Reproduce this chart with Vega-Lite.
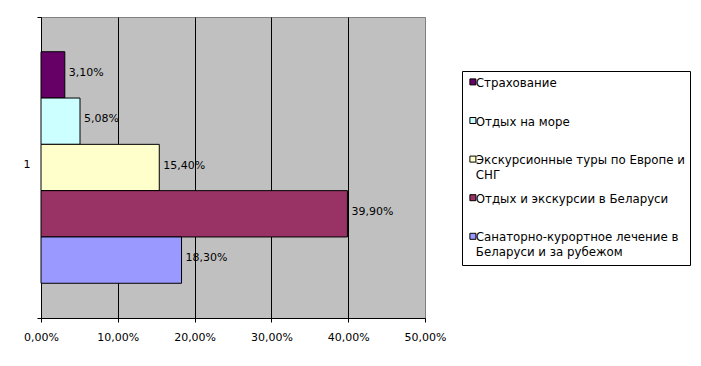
{
  "$schema": "https://vega.github.io/schema/vega-lite/v6.json",
  "width": 384,
  "height": 301,
  "autosize": "none",
  "padding": {"left": 41, "top": 17, "right": 276, "bottom": 48},
  "background": "white",
  "config": {
    "font": "DejaVu Sans",
    "locale": {"number": {"decimal": ",", "thousands": " ", "grouping": [3], "currency": ["", " руб."]}},
    "view": {"fill": "#C0C0C0", "stroke": "#808080", "strokeWidth": 1}
  },
  "data": {
    "values": [
      {"cat": "1", "series": "Страхование", "value": 0.031},
      {"cat": "1", "series": "Отдых на море", "value": 0.0508},
      {"cat": "1", "series": "Экскурсионные туры по Европе и СНГ", "value": 0.154},
      {"cat": "1", "series": "Отдых и экскурсии в Беларуси", "value": 0.399},
      {"cat": "1", "series": "Санаторно-курортное лечение в Беларуси и за рубежом", "value": 0.183}
    ]
  },
  "encoding": {
    "y": {
      "field": "cat", "type": "nominal",
      "scale": {"paddingInner": 0, "paddingOuter": 0},
      "axis": {
        "title": null, "domainColor": "black", "tickColor": "black", "tickBand": "extent",
        "tickSize": 4, "labelPadding": 7, "labelFontSize": 11, "labelColor": "black", "labelAngle": 0,
        "labelOffset": -3
      }
    },
    "yOffset": {
      "field": "series", "type": "nominal",
      "scale": {
        "domain": ["Страхование", "Отдых на море", "Экскурсионные туры по Европе и СНГ", "Отдых и экскурсии в Беларуси", "Санаторно-курортное лечение в Беларуси и за рубежом"],
        "paddingInner": 0, "paddingOuter": 0.75
      }
    },
    "x": {
      "field": "value", "type": "quantitative",
      "scale": {"domain": [0, 0.5], "nice": false},
      "axis": {
        "title": null, "values": [0, 0.1, 0.2, 0.3, 0.4, 0.5], "format": ".2%",
        "domainColor": "black", "tickColor": "black", "tickSize": 4,
        "grid": true, "gridColor": {"condition": {"test": "datum.value >= 0.5", "value": "#808080"}, "value": "black"},
        "gridOpacity": 1,
        "labelPadding": 9, "labelFontSize": 11, "labelColor": "black", "labelFlush": false
      }
    }
  },
  "layer": [
    {
      "mark": {"type": "bar", "stroke": "black", "strokeWidth": 1},
      "encoding": {
        "color": {
          "field": "series", "type": "nominal",
          "scale": {
            "domain": ["Страхование", "Отдых на море", "Экскурсионные туры по Европе и СНГ", "Отдых и экскурсии в Беларуси", "Санаторно-курортное лечение в Беларуси и за рубежом"],
            "range": ["#660066", "#CCFFFF", "#FFFFCC", "#993366", "#9999FF"]
          },
          "legend": {
            "orient": "none", "legendX": 421, "legendY": 54,
            "title": null, "strokeColor": "black", "fillColor": "white", "padding": 5,
            "symbolType": "square", "symbolSize": 36, "symbolStrokeColor": "black", "symbolStrokeWidth": 1,
            "symbolOpacity": 1,
            "labelFontSize": 11.8, "labelColor": "black", "labelLimit": 400, "labelOffset": -3,
            "labelBaseline": "top", "gridAlign": "all", "rowPadding": 9.6,
            "labelExpr": "datum.label == 'Экскурсионные туры по Европе и СНГ' ? ['Экскурсионные туры по Европе и', 'СНГ'] : datum.label == 'Санаторно-курортное лечение в Беларуси и за рубежом' ? ['Санаторно-курортное лечение в', 'Беларуси и за рубежом'] : [datum.label, ' ']",
            "encode": {"labels": {"update": {"dy": {"value": -4}, "lineHeight": {"value": 15}}}}
          }
        }
      }
    },
    {
      "mark": {"type": "text", "align": "left", "baseline": "middle", "dx": 4, "dy": -2, "fontSize": 11, "color": "black"},
      "encoding": {
        "text": {"field": "value", "type": "quantitative", "format": ".2%"}
      }
    }
  ]
}
